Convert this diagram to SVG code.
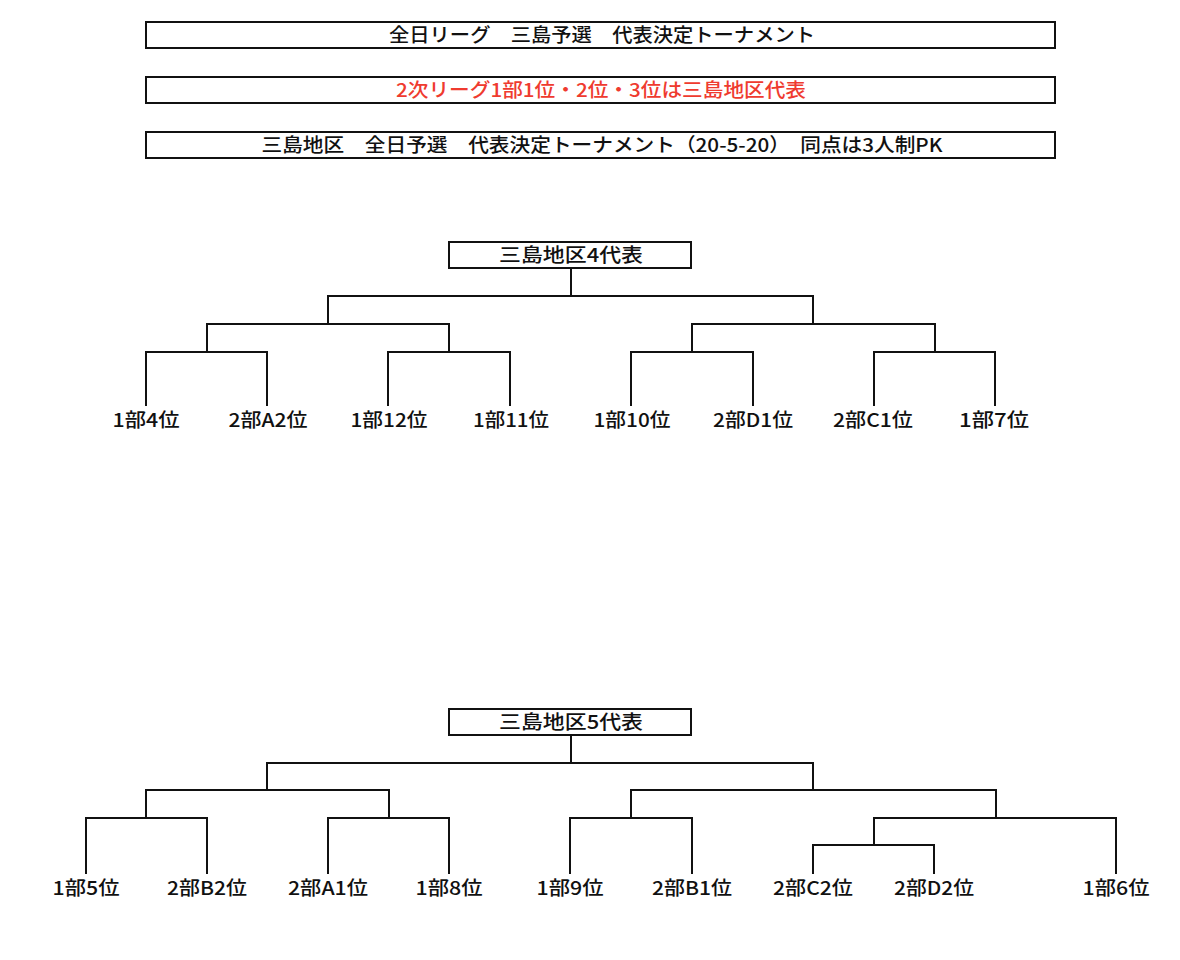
<svg xmlns="http://www.w3.org/2000/svg" width="1180" height="960" viewBox="0 0 1180 960">
<style>
.bx{fill:#fff;stroke:#111;stroke-width:2}
.t{font-family:"Noto Sans CJK JP","Noto Sans CJK SC",sans-serif;font-size:19px;font-weight:500;fill:#111;text-anchor:middle}
.red{fill:#ef3b2f}
.ln{fill:none;stroke:#111;stroke-width:2;stroke-linecap:square}
</style>
<rect width="1180" height="960" fill="#fff"/>
<g id="title1"><rect class="bx" x="146" y="22" width="909" height="26"/><text class="t" x="602" y="42" textLength="426" lengthAdjust="spacingAndGlyphs">全日リーグ　三島予選　代表決定トーナメント</text></g>
<g id="title2"><rect class="bx" x="146" y="77" width="909" height="26"/><text class="t red" x="601" y="97" textLength="410" lengthAdjust="spacingAndGlyphs">2次リーグ1部1位・2位・3位は三島地区代表</text></g>
<g id="title3"><rect class="bx" x="146" y="132" width="909" height="26"/><text class="t" x="602" y="152" textLength="681" lengthAdjust="spacingAndGlyphs">三島地区　全日予選　代表決定トーナメント（20-5-20）　同点は3人制PK</text></g>
<g id="rep4"><rect class="bx" x="449" y="242" width="242" height="26"/><text class="t" x="571" y="262" textLength="144" lengthAdjust="spacingAndGlyphs">三島地区4代表</text></g>
<g id="rep5"><rect class="bx" x="449" y="709" width="242" height="26"/><text class="t" x="571" y="729" textLength="144" lengthAdjust="spacingAndGlyphs">三島地区5代表</text></g>
<g id="connectors">
<path class="ln" d="M571 268V296M328 296H813M328 296V324M813 296V324M207 324H449M692 324H935M207 324V352M449 324V352M692 324V352M935 324V352M146 352H267M388 352H510M631 352H753M874 352H995M146 352V405M267 352V405M388 352V405M510 352V405M631 352V405M753 352V405M874 352V405M995 352V405"/>
<path class="ln" d="M571 735V763M267 763H813M267 763V790M813 763V790M146 790H389M631 790H996M146 790V818M389 790V818M631 790V818M996 790V818M86 818H207M328 818H449M570 818H692M874 818H1116M874 818V845M813 845H934M86 818V873M207 818V873M328 818V873M449 818V873M570 818V873M692 818V873M813 845V873M934 845V873M1116 818V873"/>
</g>
<g id="l1"><text class="t" x="146" y="427" textLength="67" lengthAdjust="spacingAndGlyphs">1部4位</text></g>
<g id="l2"><text class="t" x="268" y="427" textLength="79" lengthAdjust="spacingAndGlyphs">2部A2位</text></g>
<g id="l3"><text class="t" x="389" y="427" textLength="77" lengthAdjust="spacingAndGlyphs">1部12位</text></g>
<g id="l4"><text class="t" x="511" y="427" textLength="76" lengthAdjust="spacingAndGlyphs">1部11位</text></g>
<g id="l5"><text class="t" x="632" y="427" textLength="77" lengthAdjust="spacingAndGlyphs">1部10位</text></g>
<g id="l6"><text class="t" x="753" y="427" textLength="80" lengthAdjust="spacingAndGlyphs">2部D1位</text></g>
<g id="l7"><text class="t" x="873" y="427" textLength="80" lengthAdjust="spacingAndGlyphs">2部C1位</text></g>
<g id="l8"><text class="t" x="994" y="427" textLength="70" lengthAdjust="spacingAndGlyphs">1部7位</text></g>
<g id="m1"><text class="t" x="86" y="895" textLength="67" lengthAdjust="spacingAndGlyphs">1部5位</text></g>
<g id="m2"><text class="t" x="207" y="895" textLength="80" lengthAdjust="spacingAndGlyphs">2部B2位</text></g>
<g id="m3"><text class="t" x="328" y="895" textLength="80" lengthAdjust="spacingAndGlyphs">2部A1位</text></g>
<g id="m4"><text class="t" x="449" y="895" textLength="67" lengthAdjust="spacingAndGlyphs">1部8位</text></g>
<g id="m5"><text class="t" x="570" y="895" textLength="67" lengthAdjust="spacingAndGlyphs">1部9位</text></g>
<g id="m6"><text class="t" x="692" y="895" textLength="80" lengthAdjust="spacingAndGlyphs">2部B1位</text></g>
<g id="m7"><text class="t" x="813" y="895" textLength="80" lengthAdjust="spacingAndGlyphs">2部C2位</text></g>
<g id="m8"><text class="t" x="934" y="895" textLength="80" lengthAdjust="spacingAndGlyphs">2部D2位</text></g>
<g id="m9"><text class="t" x="1116" y="895" textLength="67" lengthAdjust="spacingAndGlyphs">1部6位</text></g>
</svg>
